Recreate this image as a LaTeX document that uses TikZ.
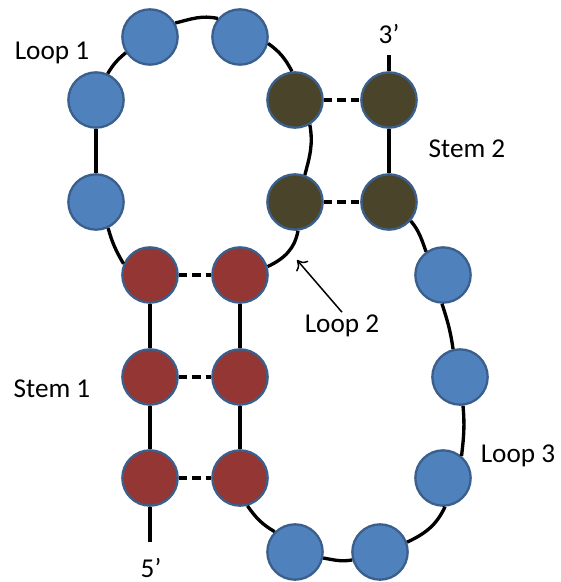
\documentclass[tikz,border=0pt]{standalone}
\usepackage{fontspec}
\setmainfont{Carlito}
\usetikzlibrary{arrows.meta}
\definecolor{ntblue}{HTML}{4F81BD}
\definecolor{ntred}{HTML}{943634}
\definecolor{ntolive}{HTML}{4A452A}
\definecolor{ntedge}{HTML}{3A5F8C}
\begin{document}
\begin{tikzpicture}[x=0.02cm,y=0.02cm,
  nt/.style={circle, minimum size=31.5pt, inner sep=0pt, draw=ntedge, line width=1.3pt},
  bl/.style={nt, fill=ntblue},
  rd/.style={nt, fill=ntred},
  ol/.style={nt, fill=ntolive},
  bb/.style={line width=1.9pt},
  pair/.style={line width=1.9pt, dash pattern=on 4.8pt off 2.8pt},
  lbl/.style={anchor=base, inner sep=1pt, font=\fontsize{15.5}{18}\selectfont}]
\useasboundingbox (0,0) rectangle (561,-582);
\node[bl] (bl1) at (150,-37){};
\node[bl] (bl2) at (240,-37){};
\node[bl] (bl3) at (96,-100){};
\node[bl] (bl4) at (96,-202){};
\node[ol] (ol1) at (295,-100){};
\node[ol] (ol2) at (389,-100){};
\node[ol] (ol3) at (295,-202){};
\node[ol] (ol4) at (389,-202){};
\node[rd] (rd1) at (150,-275){};
\node[rd] (rd2) at (240,-275){};
\node[rd] (rd3) at (150,-377){};
\node[rd] (rd4) at (240,-377){};
\node[rd] (rd5) at (150,-478){};
\node[rd] (rd6) at (240,-478){};
\node[bl] (bl5) at (443,-275){};
\node[bl] (bl6) at (460,-377){};
\node[bl] (bl7) at (443,-478){};
\node[bl] (bl8) at (295,-552){};
\node[bl] (bl9) at (380,-552){};
\coordinate (end3) at (389,-55);
\coordinate (end5) at (150,-542);
\coordinate (l2tip) at (297,-260);
\node[lbl] (loop1) at (52,-59){Loop 1};
\node[lbl] (loop2) at (342,-332){Loop 2};
\node[lbl] (loop3) at (518,-462){Loop 3};
\node[lbl] (stem1) at (52,-397){Stem 1};
\node[lbl] (stem2) at (467,-157){Stem 2};
\node[lbl] (p3) at (389,-43){3’};
\node[lbl] (p5) at (151,-577){5’};
\draw[bb] (rd1.157) to[out=120,in=-75] (bl4.-65);
\draw[bb] (bl4) -- (bl3);
\draw[bb] (bl3.66) to[out=60,in=-140] (bl1.-147);
\draw[bb] (bl1.29) to[out=14,in=168] (bl2.140);
\draw[bb] (bl2.-13) to[out=-35,in=118] (ol1.96);
\draw[bb] (ol1.-59) to[out=-80,in=75] (ol3.70);
\draw[bb] (ol3.-84) to[out=-100,in=25] (rd2.17);
\draw[bb] (ol4.-41) to[out=-50,in=110] (bl5.126);
\draw[bb] (bl5.-92) to[out=-72,in=98] (bl6.104);
\draw[bb] (bl6.-84) to[out=-85,in=83] (bl7.50);
\draw[bb] (bl7.-86) to[out=-115,in=25] (bl9.20);
\draw[bb] (bl9.-164) to[out=-170,in=-10] (bl8.-12);
\draw[bb] (bl8.135) to[out=150,in=-55] (rd6.-75);
\draw[bb] (rd1) -- (rd3);
\draw[bb] (rd3) -- (rd5);
\draw[bb] (rd2) -- (rd4);
\draw[bb] (rd4) -- (rd6);
\draw[bb] (rd5) -- (end5);
\draw[bb] (ol2) -- (ol4);
\draw[bb] (ol2) -- (end3);
\draw[pair] (rd1) -- (rd2);
\draw[pair] (rd3) -- (rd4);
\draw[pair] (rd5) -- (rd6);
\draw[pair] (ol1) -- (ol2);
\draw[pair] (ol3) -- (ol4);
\draw[line width=0.85pt, -{To[length=5pt,width=9pt]}] (loop2.north) -- (l2tip);
\end{tikzpicture}
\end{document}
